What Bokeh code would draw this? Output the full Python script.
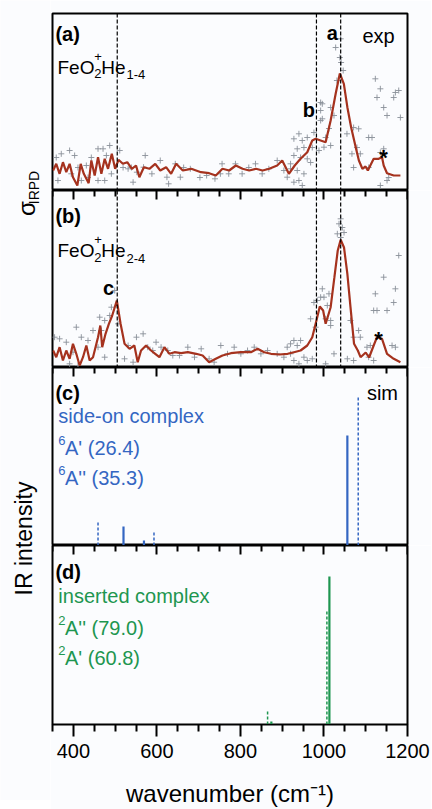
import math
from bokeh.plotting import figure
from bokeh.models import Range1d, Label, Span, LinearAxis, FixedTicker
from bokeh.layouts import column, row
from bokeh.embed import file_html
from bokeh.resources import INLINE

# ---------------- data ----------------
# (a) FeO2+He1-4 experimental IRPD spectrum (smoothed curve)
curve_a_x = [351.5, 359, 367, 375, 383, 391, 399, 409.5, 417.5, 425, 436.6, 443, 451, 459, 467, 475,
             483, 492, 500, 508, 518.5, 529, 540, 550, 558, 568.7, 582, 596, 608, 622, 634, 646, 662,
             682, 705.5, 725, 741, 757, 773, 789, 805, 821, 837, 853, 869, 888, 900, 916, 930, 944,
             960, 972, 980, 992, 1004, 1016, 1028, 1038, 1047.6, 1056, 1065, 1076, 1083.6, 1092,
             1099.5, 1105, 1111, 1119, 1131, 1139, 1143, 1151, 1167, 1183]
curve_a_y = [20, 26.7, 16.7, 28.3, 18.3, 26.7, 13.3, 5, 26.7, 16.7, 7.3, 30, 15, 33.3, 16.7, 31.7,
             21.7, 36.7, 21.7, 30.7, 26.7, 28.3, 21.7, 25, 13.3, 23.3, 21.7, 26.7, 20, 23.3, 16.7, 26.7, 20,
             21.7, 18.3, 17.3, 15, 21.7, 20, 25, 21.7, 20, 21.7, 20, 21.7, 25, 30, 16.7, 25, 31.7,
             38.3, 50, 51.7, 50, 48.3, 70, 96.7, 117, 106.7, 83.3, 63.3, 43.3, 30, 21.7,
             24, 20, 25, 31.7, 31.7, 33.3, 25, 17.3, 15, 15]
# (a) raw data points
pts_a_x = [1040, 1028, 1038, 1041, 1046, 1031, 1016, 1024, 1012, 996, 992, 1004, 1016, 1055, 1071, 1079,
           1083, 1123, 1171, 1179, 1183, 1135, 1127, 1167, 1143, 1151, 1115, 1107, 1135, 1143, 1107,
           1135, 1151, 1155, 1087, 1071, 1067, 928, 940, 948, 960, 976, 972, 952, 936, 928, 944, 960,
           968, 920, 936, 928, 940, 948, 952, 992, 1000, 988, 992, 996, 359, 371, 391, 403, 411, 395,
           363, 419, 435, 431, 443, 459, 471, 487, 479, 491, 475, 459, 511, 519, 531, 539, 552, 568,
           572, 588, 608, 624, 628, 644, 664, 680, 703, 719, 739, 756, 772, 788, 804, 820, 836, 852,
           868, 888, 904, 912, 920, 543, 656, 752]
pts_a_y = [151.7, 143, 133, 128, 120, 110, 83, 75, 62, 71.7, 88, 53, 45, 56.7, 63, 43, 61.7, 111.7, 98,
           100, 73, 101.7, 93, 93, 83, 75, 53, 53, 38, 41.7, 23, 5, 10, 13, 36.7, 23, 36.7, 51.7, 56.7,
           50, 53, 58, 43, 43, 41.7, 35, 33, 31.7, 28, 21.7, 20, 8.3, 10, 5, 16.7, 70, 43.3, 40, 80,
           86.7, 33, 36.7, 40, 35, 23, 16.7, 10, 10, 13, 25, 33, 41.7, 41.7, 45, 35, 16.7, 10, 10, 40,
           23, 21.7, 23, 18.3, 23.3, 35, 16.7, 30, 13.3, 6.7, 26.7, 23, 21.7, 13, 15, 11.7, 26.7, 16.7,
           26.7, 16.7, 23, 26.7, 16.7, 21.7, 30, 20, 13.3, 26.7, 8.3, 13.3, 16.7]

# (b) FeO2+He2-4 experimental IRPD spectrum (smoothed curve)
curve_b_x = [351.5, 359, 367, 375, 383, 391, 399, 407, 415, 423, 431, 439, 447, 459, 464.5, 469, 477,
             485, 493, 504, 513, 522.5, 534.5, 546, 554, 562, 574, 586, 596, 606, 618, 630, 642, 658,
             674, 694, 709.5, 725, 741, 757, 777, 801, 825, 841, 857, 873, 893, 913, 928, 944, 960,
             972, 982, 990, 998, 1004, 1016, 1025, 1033, 1040, 1048, 1056, 1063.5, 1072, 1081,
             1087.6, 1100, 1108, 1119, 1127, 1139, 1151, 1167, 1183]
curve_b_y = [17, 10.3, 20.3, 7, 17, 8.7, 23.7, 13.7, 2, 10.3, 22, 7, 10.3, 30.3, 42, 20.3, 33.7,
             43.7, 52, 67, 43.7, 23.7, 18.7, 22, 5.3, 17, 22, 17, 13.7, 10.3, 20.3, 13.7, 15.3, 14.3,
             15.3, 13.7, 12, 5.3, 8.7, 12, 14.3, 15.3, 15.3, 18.7, 15.3, 13.7, 13, 13.7, 15.3, 17, 22,
             30.3, 47, 61, 57, 43.7, 60.3, 90.3, 117, 127.7, 120, 93.7, 60.3, 23.7, 17,
             10.3, 15, 10, 22, 30.3, 28.7, 13.7, 8.7, 5.3]
# (b) raw data points
pts_b_x = [1040, 1036, 1044, 1032, 1048, 1040, 1179, 1143, 1123, 1151, 1119, 1127, 1167, 1171, 992, 1000,
           984, 996, 976, 1012, 1008, 1016, 1004, 968, 980, 1016, 1063.5, 1071, 1083, 1087, 1103, 1111,
           1107, 1119, 1163, 1171, 1071, 1056, 1024, 1004, 928, 920, 936, 912, 944, 952, 960, 972, 928,
           940, 920, 355, 367, 383, 407, 419, 399, 391, 411, 435, 447, 463, 467, 475, 487, 491, 459,
           475, 499, 507, 531, 551, 567, 578, 590, 598, 610, 626, 638, 654, 674, 690, 706, 725, 737,
           753, 769, 785, 801, 817, 833, 849, 865, 888, 904, 522.5, 543]
pts_b_y = [148.7, 143.7, 140, 133.7, 135, 130, 112, 90.3, 73.7, 57, 57, 57, 65, 78.7, 70.3, 70.3, 67,
           78.7, 65, 73.7, 62, 47, 48.7, 48.7, 40.3, 42, 47, 30.3, 37, 30.3, 20.3, 22, 10.3, 7, 22,
           20.3, 7, 8.7, 13.7, 3.7, 27, 23.7, 22, 20.3, 27, 10.3, 7, 8.7, 7, 3.7, 13.7, 30.3, 28.7,
           25.3, 40.3, 30.3, 15.3, 3.7, 2, 27, 37, 50.3, 37, 47, 52, 60.3, 20.3, 10.3, 77, 43.7, 22,
           30.3, 33.7, 20.3, 17, 25.3, 20.3, 17, 12, 12, 20.3, 10.3, 18.7, 8.7, 5.3, 22, 13.7, 20.3,
           13.7, 17, 20.3, 13.7, 17, 13.7, 10.3, 8.7, 5.3]

# assigned band positions (a, b, c)
band_lines = [505, 982, 1040]

# (c) simulated side-on complex: 6A' (solid) and 6A'' (dashed)
side_A1_x = [520, 569, 1056]
side_A1_y = [19, 5, 110]
side_A2_x = [459, 593, 1082]
side_A2_y = [25, 13, 148]

# (d) simulated inserted complex: 2A'' (solid) and 2A' (dashed)
ins_A2_x = [874, 1013]
ins_A2_y = [3, 148]
ins_A1_x = [865, 1007]
ins_A1_y = [13, 114]

major_ticks = [400, 600, 800, 1000, 1200]
minor_ticks = [350, 450, 500, 550, 650, 700, 750, 850, 900, 950, 1050, 1100, 1150]

# ---------------- style ----------------
BG = "#fbfcfe"
FONT = "Liberation Sans"
RED = "#a5321e"
GRAY = "#8a9099"
BLUE = "#3466c2"
GREEN = "#1e9650"

xr = Range1d(350, 1200)


def top_axis(p, fh):
    # inward ticks along the boundary shared with the panel above (labels not drawn)
    ax = LinearAxis(ticker=FixedTicker(ticks=major_ticks, minor_ticks=minor_ticks),
                    fixed_location=fh,
                    major_tick_in=9, major_tick_out=0, minor_tick_in=6, minor_tick_out=0,
                    major_tick_line_width=2, minor_tick_line_width=2,
                    major_tick_line_color="black", minor_tick_line_color="black",
                    major_label_text_color=None, major_label_standoff=0)
    p.add_layout(ax, "above")


def panel(fh, top_ticks=False, bottom_axis=False, top_border=0):
    p = figure(frame_width=355, frame_height=fh, x_range=xr, y_range=Range1d(0, fh),
               output_backend="svg", toolbar_location=None,
               x_axis_location=None, y_axis_location=None,
               min_border_left=2, min_border_right=24, min_border_top=top_border,
               min_border_bottom=0)
    p.background_fill_color = BG
    p.border_fill_color = BG
    p.outline_line_color = "black"
    p.outline_line_width = 2
    p.xgrid.visible = False
    p.ygrid.visible = False
    if top_ticks:
        top_axis(p, fh)
    if bottom_axis:
        ax = LinearAxis(ticker=FixedTicker(ticks=major_ticks, minor_ticks=minor_ticks),
                        major_tick_in=0, major_tick_out=12,
                        minor_tick_in=0, minor_tick_out=7,
                        major_tick_line_width=2, minor_tick_line_width=2,
                        major_tick_line_color="black", minor_tick_line_color="black",
                        major_label_text_font=FONT, major_label_text_font_size="20px",
                        major_label_text_color="black", major_label_standoff=7,
                        axis_label="wavenumber (cm⁻¹)", axis_label_text_font=FONT,
                        axis_label_text_font_size="24px", axis_label_text_font_style="normal",
                        axis_label_text_color="black", axis_label_standoff=19)
        p.add_layout(ax, "below")
    return p


def lab(p, x, y, t, size=20, color="black", bold=False, align="left", baseline="middle", angle=0):
    p.add_layout(Label(x=x, y=y, text=t, text_font=FONT, text_font_size=f"{size}px",
                       text_color=color, text_font_style="bold" if bold else "normal",
                       text_align=align, text_baseline=baseline, angle=angle))


def formula(p, ybase, sub):
    lab(p, 362, ybase, "FeO", 19, baseline="alphabetic")
    lab(p, 450, ybase + 11, "+", 13)
    lab(p, 450, ybase - 6.5, "2", 13, baseline="alphabetic")
    lab(p, 467, ybase, "He", 19, baseline="alphabetic")
    lab(p, 527, ybase - 7.5, sub, 13, baseline="alphabetic")


def exp_panel(p, cx, cy, px_, py_):
    p.scatter(px_, py_, marker="cross", size=6, line_color=GRAY, line_width=1, line_alpha=0.9)
    p.line(cx, cy, line_color=RED, line_width=2.2)
    for loc in band_lines:
        p.add_layout(Span(location=loc, dimension="height", line_color="black",
                          line_dash="4 2", line_width=1.2))


# (a)
pa = panel(177, top_border=13)
exp_panel(pa, curve_a_x, curve_a_y, pts_a_x, pts_a_y)
lab(pa, 357, 157, "(a)", 20, bold=True)
formula(pa, 123.5, "1-4")
lab(pa, 1020, 158, "a", 20, bold=True, align="center")
lab(pa, 1130.6, 155, "exp", 20, align="center")
lab(pa, 964, 81, "b", 20, bold=True, align="center")
lab(pa, 1142.5, 33.5, "*", 22, bold=True, align="center", baseline="alphabetic")

# (b)
pb = panel(177, top_ticks=True)
exp_panel(pb, curve_b_x, curve_b_y, pts_b_x, pts_b_y)
lab(pb, 357, 152, "(b)", 20, bold=True)
formula(pb, 117, "2-4")
lab(pb, 484, 80, "c", 20, bold=True, align="center")
lab(pb, 1130.6, 28, "*", 22, bold=True, align="center", baseline="alphabetic")

# (c)
pc = panel(178, top_ticks=True)
pc.segment(x0=side_A1_x, y0=0, x1=side_A1_x, y1=side_A1_y, line_color=BLUE, line_width=2.2)
pc.segment(x0=side_A2_x, y0=0, x1=side_A2_x, y1=side_A2_y, line_color=BLUE, line_width=1.5,
           line_dash="3 2")
lab(pc, 357, 153, "(c)", 20, bold=True)
lab(pc, 1140, 153, "sim", 20, align="center")
lab(pc, 364, 130, "side-on complex", 20, color=BLUE)
lab(pc, 364, 105, "6", 13, color=BLUE)
lab(pc, 380, 98, "A' (26.4)", 20, color=BLUE)
lab(pc, 364, 75, "6", 13, color=BLUE)
lab(pc, 380, 68, "A'' (35.3)", 20, color=BLUE)

# (d)
pd = panel(179, top_ticks=True, bottom_axis=True)
pd.segment(x0=ins_A2_x, y0=0, x1=ins_A2_x, y1=ins_A2_y, line_color=GREEN, line_width=2.2)
pd.segment(x0=ins_A1_x, y0=0, x1=ins_A1_x, y1=ins_A1_y, line_color=GREEN, line_width=1.5,
           line_dash="3 2")
lab(pd, 357, 153, "(d)", 20, bold=True)
lab(pd, 364, 129, "inserted complex", 20, color=GREEN)
lab(pd, 364, 104, "2", 13, color=GREEN)
lab(pd, 380, 97, "A'' (79.0)", 20, color=GREEN)
lab(pd, 364, 74, "2", 13, color=GREEN)
lab(pd, 380, 67, "A' (60.8)", 20, color=GREEN)

# left strip with the y-axis titles
H = 800
strip = figure(width=50, height=H, x_range=Range1d(0, 50), y_range=Range1d(0, H),
               output_backend="svg", toolbar_location=None,
               x_axis_location=None, y_axis_location=None, min_border=0)
strip.background_fill_color = BG
strip.border_fill_color = BG
strip.outline_line_color = None
strip.xgrid.visible = False
strip.ygrid.visible = False
lab(strip, 23, 262, "IR intensity", 23, align="center", angle=math.pi / 2)
lab(strip, 26, 592, "σ", 24, align="center", angle=math.pi / 2)
lab(strip, 33, 613, "IRPD", 14, align="center", angle=math.pi / 2)

layout = row(strip, column(pa, pb, pc, pd))

with open("out.html", "w") as f:
    f.write(file_html(layout, INLINE, title="FeO2+ IRPD"))
